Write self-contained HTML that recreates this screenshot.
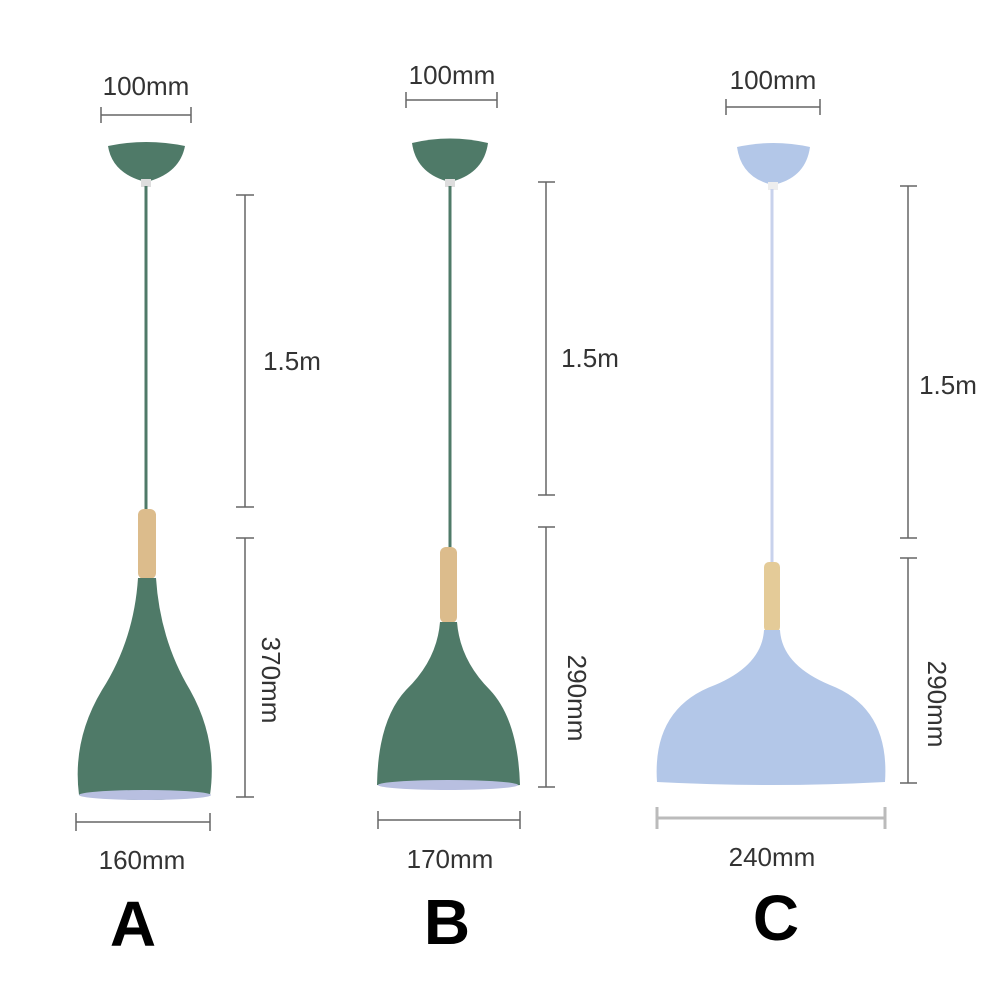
<!DOCTYPE html>
<html><head><style>html,body{margin:0;padding:0;background:#fff}svg{display:block}</style></head>
<body>
<svg width="1000" height="1000" viewBox="0 0 1000 1000" xmlns="http://www.w3.org/2000/svg" font-family="'Liberation Sans Narrow', 'Liberation Sans', 'DejaVu Sans Condensed', sans-serif">
<rect width="1000" height="1000" fill="#fff"/>
<g stroke="#666" stroke-width="1.5" fill="none">
 <path d="M101 115H191M101 107V123M191 107V123"/>
 <path d="M245 195V507M236 195H254M236 507H254"/>
 <path d="M245 538V797M236 538H254M236 797H254"/>
 <path d="M76 822H210M76 813V831M210 813V831"/>
 <path d="M406 100H497M406 92V108M497 92V108"/>
 <path d="M546 182V495M538 182H555M538 495H555"/>
 <path d="M546 527V787M538 527H555M538 787H555"/>
 <path d="M378 820H520M378 811V829M520 811V829"/>
 <path d="M726 107H820M726 99V115M820 99V115"/>
 <path d="M908 186V538M900 186H917M900 538H917"/>
 <path d="M908 558V783M900 558H917M900 783H917"/>
 <path d="M657 818H885M657 807V829M885 807V829" stroke="#bbb" stroke-width="3"/>
</g>
<g fill="#333" font-size="26">
 <text x="146" y="95" text-anchor="middle">100mm</text>
 <text x="452" y="84" text-anchor="middle">100mm</text>
 <text x="773" y="89" text-anchor="middle">100mm</text>
 <text x="292" y="370" text-anchor="middle">1.5m</text>
 <text x="590" y="367" text-anchor="middle">1.5m</text>
 <text x="948" y="394" text-anchor="middle">1.5m</text>
 <text transform="translate(262,680) rotate(90)" text-anchor="middle">370mm</text>
 <text transform="translate(568,698) rotate(90)" text-anchor="middle">290mm</text>
 <text transform="translate(928,704) rotate(90)" text-anchor="middle">290mm</text>
 <text x="142" y="869" text-anchor="middle">160mm</text>
 <text x="450" y="868" text-anchor="middle">170mm</text>
 <text x="772" y="866" text-anchor="middle">240mm</text>
</g>
<g fill="#000" font-size="64" font-weight="bold" text-anchor="middle">
 <text x="133" y="946">A</text>
 <text x="447" y="944">B</text>
 <text x="776" y="940">C</text>
</g>
<path d="M108 146 Q146 138 185 146 Q180 172 150 181 H142 Q112 172 108 146Z" fill="#4f7a68"/>
<rect x="141" y="179" width="10" height="8" fill="#ddd"/>
<line x1="146" y1="186" x2="146" y2="512" stroke="#4f7a68" stroke-width="3"/>
<rect x="138" y="509" width="18" height="70" rx="6" fill="#dcbc8c"/>
<path d="M138 578 H156 Q160 640 190 690 Q218 740 210 795 Q146 805 79 795 Q72 740 102 690 Q134 640 138 578Z" fill="#4f7a68"/>
<ellipse cx="145" cy="795" rx="66" ry="5" fill="#b8bfe0"/>
<path d="M412 143 Q450 134 488 143 Q484 172 454 181 H446 Q416 172 412 143Z" fill="#4f7a68"/>
<rect x="445" y="179" width="10" height="8" fill="#ddd"/>
<line x1="450" y1="186" x2="450" y2="550" stroke="#4f7a68" stroke-width="3"/>
<rect x="440" y="547" width="17" height="76" rx="6" fill="#dcbc8c"/>
<path d="M440 622 H457 Q460 660 490 690 Q518 720 520 785 Q450 792 377 785 Q378 720 406 690 Q437 660 440 622Z" fill="#4f7a68"/>
<ellipse cx="448" cy="785" rx="70" ry="5" fill="#b8bfe0"/>
<path d="M737 147 Q773 139 810 147 Q806 176 777 184 H769 Q741 176 737 147Z" fill="#b3c7e8"/>
<rect x="768" y="182" width="10" height="8" fill="#eee"/>
<line x1="772" y1="189" x2="772" y2="565" stroke="#c8d2ec" stroke-width="3"/>
<rect x="764" y="562" width="16" height="70" rx="5" fill="#e4cb98"/>
<path d="M764 630 H780 Q782 665 830 685 Q890 708 885 782 Q772 788 657 782 Q652 708 715 685 Q762 665 764 630Z" fill="#b3c7e8"/>
</svg>
</body></html>
